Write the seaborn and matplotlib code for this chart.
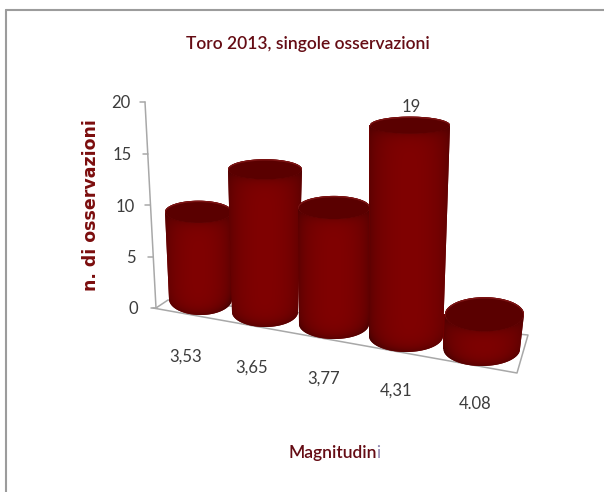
import numpy as np
import pandas as pd
import matplotlib
matplotlib.use("Agg")
import matplotlib.pyplot as plt
from matplotlib.lines import Line2D
from matplotlib.patches import Ellipse, Polygon
import seaborn as sns

# ---- data ----
title = "Toro 2013, singole osservazioni"
categories = ["3,53", "3,65", "3,77", "4,31", "4.08"]
values = [9, 14, 11, 19, 3]
y_ticks = [0, 5, 10, 15, 20]
x_title_head = "Magnitudin"
x_title_tail = "i"
y_title = "n. di osservazioni"

# ---- layout of the 3D scene (pixels of the 604x492 picture) ----
W, H, DPI = 604, 492, 100
AX_L, AX_R, AX_TOP, AX_BOT = 156, 530, 102, 308
top_left = [165, 228, 298, 370, 445]
top_right = [232, 302, 370, 450, 524]
base_left = [169, 232, 299, 369, 443.5]
base_right = [232, 298, 369, 443, 520]
base_cy = [299, 312, 324, 336, 349]
base_ry = [16, 15, 15, 16, 17]
top_ry = [11, 10, 11.5, 8.5, 17]
persp = [9.7, 10.2, 10.6, 11.1, 11.6]      # px per unit at each bar's depth
label_x = [186, 252, 324, 396, 475]
label_y = [357, 368, 379, 391, 404]
ytick_right = [138, 136, 135, 132, 130]

sns.set_theme(style="white")
plt.rcParams["font.family"] = ["Lato", "DejaVu Sans"]

fig = plt.figure(figsize=(W / DPI, H / DPI), dpi=DPI, facecolor="white")
ax = fig.add_axes([AX_L / W, 1 - AX_BOT / H, (AX_R - AX_L) / W, (AX_BOT - AX_TOP) / H])
k0 = (AX_BOT - AX_TOP) / 20.0


def Y(py):
    return (AX_BOT - py) / k0


def axis_x(v):
    return AX_L - 11 * v / 20.0


df = pd.DataFrame({
    "slot": [(a + b) / 2 for a, b in zip(base_left, base_right)],
    "value": values,
})
sns.barplot(data=df, x="slot", y="value", native_scale=True, color="#6e0000",
            saturation=1, width=0.8, ax=ax, legend=False)

ax.set_xlim(AX_L, AX_R)
ax.set_ylim(0, 20)
ax.set_aspect("auto")
for s in ax.spines.values():
    s.set_visible(False)
ax.patch.set_alpha(0)

GRAY = "#a8a8a8"
# tilted value axis + floor
ax.plot([axis_x(20), axis_x(0)], [20, 0], color=GRAY, lw=1.1, clip_on=False, zorder=1)
ax.plot([153, 517, 528, 168, 156], [Y(308), Y(373), Y(335), Y(300), Y(308)],
        color=GRAY, lw=1.1, clip_on=False, zorder=1)
for v in y_ticks:
    ax.plot([axis_x(v) - 5, axis_x(v)], [v, v], color=GRAY, lw=1.1, clip_on=False, zorder=1)

# cylinders
for i, (p, v) in enumerate(zip(sorted(ax.patches, key=lambda r: r.get_x()), values)):
    z = 10 + i * 5
    tc = base_cy[i] - v * persp[i]
    tl, tr, bl, br = top_left[i], top_right[i], base_left[i], base_right[i]
    bcx, tcx = (bl + br) / 2, (tl + tr) / 2
    brx, trx = (br - bl) / 2, (tr - tl) / 2

    p.set_x(bl)
    p.set_width(br - bl)
    p.set_y(Y(base_cy[i]))
    p.set_height(v * persp[i] / k0)
    p.set_clip_on(False)
    p.set_zorder(z)
    p.set_linewidth(0)

    th = np.linspace(np.pi, 0, 60)
    xs = np.r_[tl, bcx + brx * np.cos(th), tr, tcx + trx * np.cos(th[::-1])]
    ys = np.r_[tc, base_cy[i] + base_ry[i] * np.sin(th), tc, tc - top_ry[i] * np.sin(th[::-1])]
    outline = Polygon(np.c_[xs, Y(ys)], closed=True, transform=ax.transData,
                      fc="#6e0000", ec="none", zorder=z + 0.1, clip_on=False)
    ax.add_patch(outline)

    # cylinder shading
    ny, nx = 160, 80
    x0, x1 = min(tl, bl), max(tr, br)
    y0, y1 = tc - top_ry[i], base_cy[i] + base_ry[i]
    gx, gy = np.meshgrid(np.linspace(x0, x1, nx), np.linspace(y0, y1, ny))
    u = np.clip((gx - (x0 + x1) / 2) / ((x1 - x0) / 2), -0.995, 0.995)
    round_ = np.sqrt(1 - u ** 2)
    lower = base_cy[i] + base_ry[i] * round_
    upper = tc + top_ry[i] * round_
    shade = 0.70 + 0.30 * round_ ** 1.2
    shade = shade * (1 - 0.28 * np.exp(-np.clip(lower - gy, 0, None) / 6.0))
    shade = shade * (1 - 0.16 * np.exp(-np.clip(gy - upper, 0, None) / 6.0))
    rgb = np.dstack([128 * shade, 2 * shade, 2 * shade]) / 255.0
    im = ax.imshow(rgb, extent=[x0, x1, Y(y1), Y(y0)], origin="upper", aspect="auto",
                   zorder=z + 0.2, interpolation="bilinear")
    im.set_clip_box(fig.bbox)
    im.set_clip_path(outline)

    # top cap: lighter rim and dark face
    ax.add_patch(Ellipse((tcx, Y(tc)), 2 * trx, 2 * top_ry[i] / k0, fc="#7c1414", ec="none",
                         zorder=z + 0.3, clip_on=False))
    ax.add_patch(Ellipse((tcx, Y(tc + 0.8)), 2 * trx - 1.5, (2 * top_ry[i] - 1.2) / k0, fc="#5a0000",
                         ec="none", zorder=z + 0.4, clip_on=False))

ax.set_xlim(AX_L, AX_R)
ax.set_ylim(0, 20)

TXT = "#3c3c3c"
MAROON = "#650c14"
ax.set_xticks(label_x, categories)
ax.set_yticks(y_ticks, [str(v) for v in y_ticks])
ax.tick_params(axis="both", length=0, colors=TXT, labelsize=12)
for t, ly in zip(ax.xaxis.get_major_ticks(), label_y):
    t.set_pad((ly - 8 - AX_BOT) * 72 / DPI)
for t, r in zip(ax.yaxis.get_major_ticks(), ytick_right):
    t.set_pad((AX_L - r) * 72 / DPI)

# value label
bar = values.index(19)
ax.text(411, Y(107), str(values[bar]), ha="center", va="center", fontsize=12, color=TXT,
        zorder=50, clip_on=False)

# titles
ax.set_title(title, x=(308 - AX_L) / (AX_R - AX_L), y=(AX_BOT - 44) / (AX_BOT - AX_TOP),
             fontsize=12.5, fontweight="semibold", color=MAROON, va="center", pad=0)
ax.set_xlabel(x_title_head, fontsize=12.5, fontweight="semibold", color=MAROON, va="center")
ax.xaxis.set_label_coords((333 - AX_L) / (AX_R - AX_L), (AX_BOT - 453) / (AX_BOT - AX_TOP))
ax.annotate(x_title_tail, xy=(1, 0), xycoords=ax.xaxis.label, xytext=(-1, 0),
            textcoords="offset points", va="bottom", ha="left",
            annotation_clip=False, fontsize=12.5, color="#8f86b0", zorder=60)
ax.set_ylabel(y_title, fontsize=12.5, fontweight="bold", family="DejaVu Sans", color="#7b0d0d", va="center")
ax.yaxis.set_label_coords((91 - AX_L) / (AX_R - AX_L), (AX_BOT - 205) / (AX_BOT - AX_TOP))

# chart frame: only the left and top edges are visible
FRAME = "#9c9c9c"
fig.add_artist(Line2D([6 / W, 6 / W], [0, 1 - 10 / H], transform=fig.transFigure, color=FRAME, lw=1.5))
fig.add_artist(Line2D([6 / W, 1], [1 - 10 / H, 1 - 10 / H], transform=fig.transFigure, color=FRAME, lw=1.5))

fig.savefig("out.png", dpi=DPI)
